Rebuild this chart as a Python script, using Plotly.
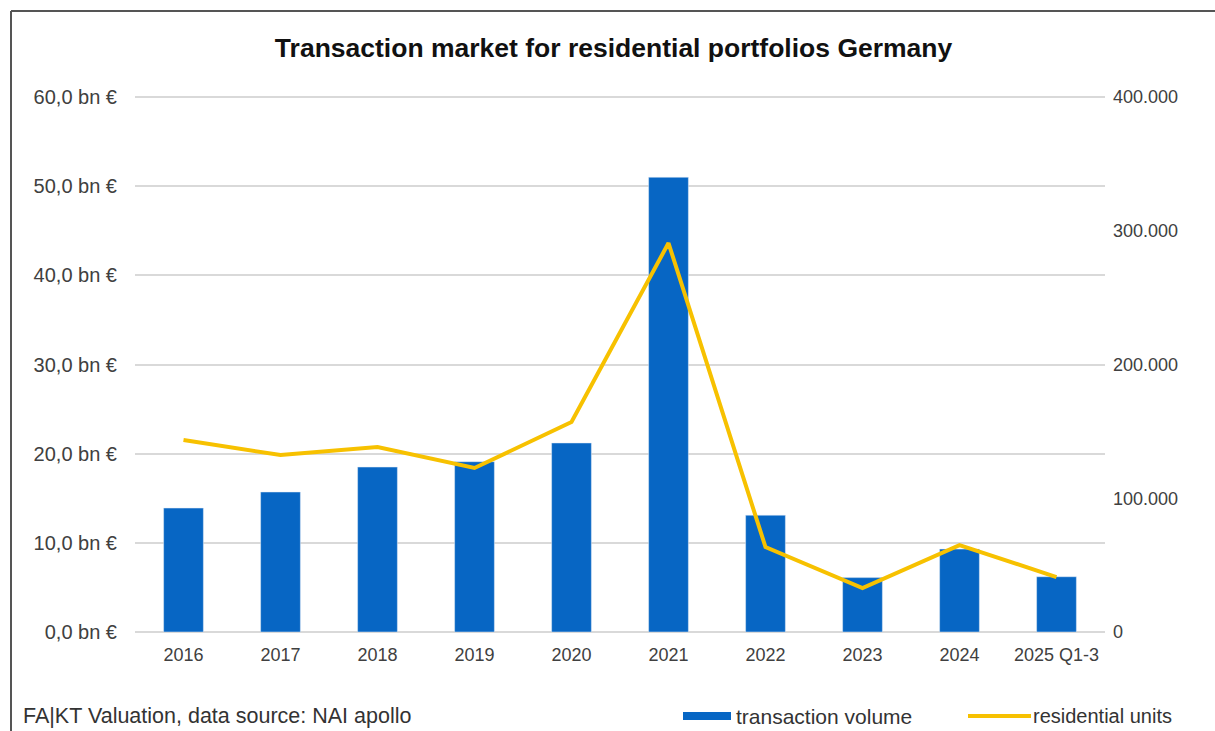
import plotly.graph_objects as go

# Daten
years = ['2016', '2017', '2018', '2019', '2020', '2021', '2022', '2023', '2024', '2025 Q1-3']
volume_bn = [13.9, 15.7, 18.5, 19.1, 21.2, 51.0, 13.1, 6.1, 9.3, 6.2]
units = [143500, 132300, 138300, 122600, 157000, 290800, 63500, 32900, 65000, 41100]
left_ticks = [0, 10, 20, 30, 40, 50, 60]
right_ticks = [0, 100000, 200000, 300000, 400000]

BLUE = '#0766C4'
YELLOW = '#F7C100'
FONT = 'Liberation Sans, Arial, sans-serif'

# Plotbereich in Pixeln (Oberkante etwas über der 60er-Linie, damit sie gezeichnet wird)
L, R, T, B = 135, 1105, 95, 632
Y60 = 97
top_left = 60 * (B - T) / (B - Y60)
top_right = 400000 * (B - T) / (B - Y60)


def px(x):
    return (x - L) / (R - L)


def py(y):
    return (B - y) / (B - T)


fig = go.Figure()

# Transaktionsvolumen (Balken)
fig.add_trace(go.Bar(
    x=years,
    y=volume_bn,
    name='transaction volume',
    marker_color=BLUE,
    width=0.41,
    yaxis='y'
))

# Wohneinheiten (Linie)
fig.add_trace(go.Scatter(
    x=years,
    y=units,
    name='residential units',
    mode='lines',
    line=dict(color=YELLOW, width=4),
    yaxis='y2'
))

fig.update_layout(
    width=1215,
    height=731,
    margin=dict(l=L, r=1215 - R, t=T, b=731 - B, autoexpand=False),
    paper_bgcolor='white',
    plot_bgcolor='white',
    separators=',.',
    font=dict(family=FONT, size=18, color='#404040'),
    title=dict(
        text='<b>Transaction market for residential portfolios Germany</b>',
        x=0.505, xanchor='center',
        y=1 - 48 / 731, yanchor='middle',
        font=dict(family=FONT, size=26.5, color='#111111')
    ),
    xaxis=dict(
        type='category',
        showgrid=False,
        showline=False,
        ticks='',
        ticklabelstandoff=10,
        tickfont=dict(size=18, color='#404040'),
    ),
    yaxis=dict(
        range=[0, top_left],
        tickvals=left_ticks,
        ticktext=[f'{v:.1f}'.replace('.', ',') + ' bn €' for v in left_ticks],
        showgrid=True,
        gridcolor='#D9D9D9',
        gridwidth=2,
        zeroline=True,
        zerolinecolor='#D9D9D9',
        zerolinewidth=2,
        ticks='',
        ticklabelstandoff=17,
        tickfont=dict(size=20, color='#404040'),
    ),
    yaxis2=dict(
        range=[0, top_right],
        tickvals=right_ticks,
        ticktext=[f'{v:,d}'.replace(',', '.') for v in right_ticks],
        overlaying='y',
        side='right',
        showgrid=False,
        zeroline=False,
        ticks='',
        ticklabelstandoff=7,
        tickfont=dict(size=18, color='#404040'),
    ),
    showlegend=False,
)

# Legende (von Hand, mit breiten Symbolen wie im Original)
fig.add_shape(type='rect', xref='paper', yref='paper',
              x0=px(683), x1=px(731), y0=py(720), y1=py(712),
              fillcolor=BLUE, line=dict(width=0))
fig.add_annotation(text='transaction volume', xref='paper', yref='paper',
                   x=px(734), xanchor='left', y=py(716), yanchor='middle',
                   showarrow=False, font=dict(family=FONT, size=21, color='#333333'))
fig.add_shape(type='line', xref='paper', yref='paper',
              x0=px(968), x1=px(1031), y0=py(716), y1=py(716),
              line=dict(color=YELLOW, width=4))
fig.add_annotation(text='residential units', xref='paper', yref='paper',
                   x=px(1031), xanchor='left', y=py(716), yanchor='middle',
                   showarrow=False, font=dict(family=FONT, size=20, color='#333333'))

# Quelle
fig.add_annotation(
    text='FA|KT Valuation, data source: NAI apollo',
    xref='paper', yref='paper',
    x=px(21), xanchor='left',
    y=py(716), yanchor='middle',
    showarrow=False,
    font=dict(family=FONT, size=21.5, color='#333333')
)

# Rahmen oben und links
fig.add_shape(type='line', xref='paper', yref='paper',
              x0=px(11), x1=px(1215), y0=py(11), y1=py(11),
              line=dict(color='#555555', width=2))
fig.add_shape(type='line', xref='paper', yref='paper',
              x0=px(11), x1=px(11), y0=py(11), y1=py(740),
              line=dict(color='#555555', width=2))

fig.write_html("out.html", config={'displayModeBar': False},
               post_script="document.body.style.margin='0';")
